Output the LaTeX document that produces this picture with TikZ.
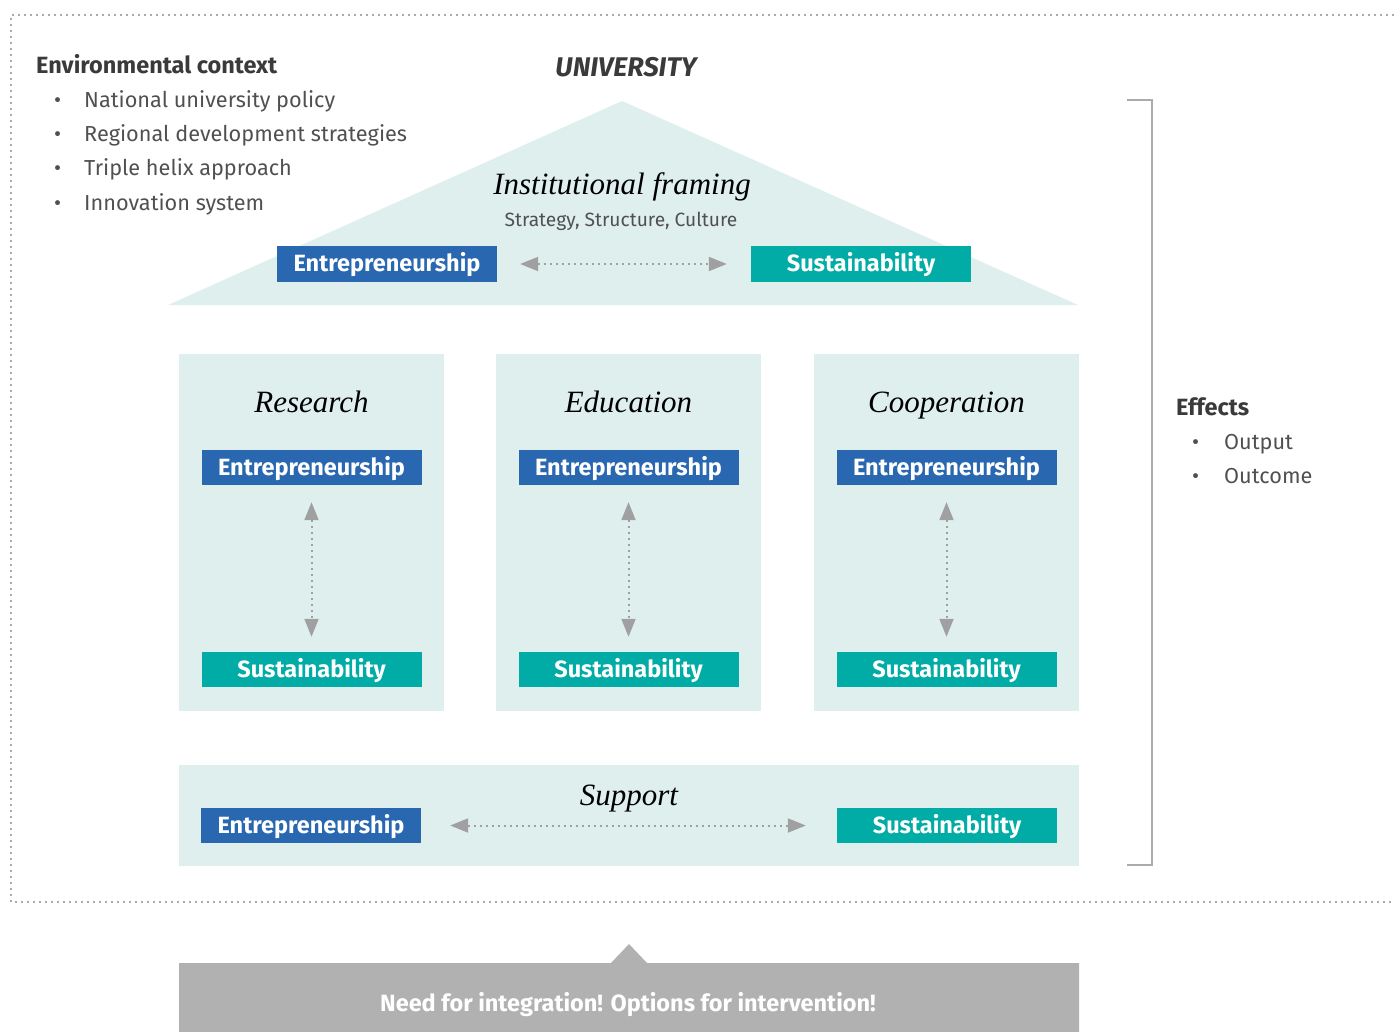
\documentclass[tikz,border=0pt]{standalone}
\usepackage{fontspec}
\setmainfont{Fira Sans}
\newfontfamily\serifit{Liberation Serif}
\usetikzlibrary{arrows.meta}
\definecolor{roof}{HTML}{DFEFEE}
\definecolor{entblue}{HTML}{2A67B1}
\definecolor{susteal}{HTML}{00ACA5}
\definecolor{arrgray}{HTML}{A0A0A0}
\definecolor{framegray}{HTML}{ABABAB}
\definecolor{txtdark}{HTML}{3A3A3A}
\definecolor{txtbody}{HTML}{505050}
\definecolor{banner}{HTML}{B1B1B1}
\tikzset{
  tagbox/.style={minimum width=220pt, minimum height=35pt, inner sep=0pt, text=white,
     text height=16pt, text depth=0pt,
     font=\fontsize{23.5}{26}\selectfont\bfseries},
  entbox/.style={tagbox, fill=entblue},
  susbox/.style={tagbox, fill=susteal},
  pillar/.style={fill=roof, minimum width=265pt, minimum height=357pt, inner sep=0pt},
  ptitle/.style={font=\serifit\itshape\fontsize{31}{34}\selectfont, text=black, inner sep=0pt, anchor=base},
  linkarrow/.style={arrgray, line width=2pt, dash pattern=on 2pt off 4pt,
     {Triangle[length=18pt,width=14pt]}-{Triangle[length=18pt,width=14pt]}},
  bodytxt/.style={font=\fontsize{21.7}{24}\selectfont, text=txtbody, anchor=base west, inner sep=0pt},
  headtxt/.style={font=\fontsize{23.5}{26}\selectfont\bfseries, text=txtdark, anchor=base west, inner sep=0pt},
}
\begin{document}
\begin{tikzpicture}[x=1pt,y=-1pt]
\useasboundingbox (0,0) rectangle (1394,1032);
% outer dotted frame
\coordinate (fTR) at (1394,15);
\coordinate (fTL) at (11,15);
\coordinate (fBL) at (11,902);
\coordinate (fBR) at (1394,902);
\draw[framegray, line width=2pt, dash pattern=on 2pt off 4pt] (fTR) -- (fTL) -- (fBL) -- (fBR);

% environmental context
\node[headtxt] (envh) at (36,73.5) {Environmental context};
\foreach \yy/\tt [count=\i] in {107.5/National university policy,141.5/Regional development strategies,175.5/Triple helix approach,210.5/Innovation system}{
  \node[bodytxt] (envb\i) at (54,\yy) {•};
  \node[bodytxt] (env\i) at (84,\yy) {\tt};
}

% University
\node[font=\fontsize{27}{30}\selectfont\bfseries\itshape, text=txtdark, inner sep=0pt] (univ) at (626,67) {UNIVERSITY};

% roof
\coordinate (apex) at (622,101);
\coordinate (rl) at (168,305);
\coordinate (rr) at (1078,305);
\fill[roof] (apex) -- (rr) -- (rl) -- cycle;
\node[ptitle] (inst) at (622,195) {Institutional framing};
\node[font=\fontsize{19.2}{22}\selectfont, text=txtbody, inner sep=0pt] (ssc) at (621,221) {Strategy, Structure, Culture};
\node[entbox] (te) at (387,264) {Entrepreneurship};
\node[susbox] (ts) at (861,264) {Sustainability};
\draw[linkarrow, shorten <=23pt, shorten >=24pt] (te.east) -- (ts.west);

% pillars
\foreach \nm/\cx/\ttl in {r/311.5/Research, e/628.5/Education, c/946.5/Cooperation}{
  \node[pillar] (p\nm) at (\cx,532.5) {};
  \node[ptitle] (t\nm) at (\cx,412) {\ttl};
  \node[entbox] (e\nm) at (\cx,467.5) {Entrepreneurship};
  \node[susbox] (s\nm) at (\cx,669.5) {Sustainability};
  \draw[linkarrow, shorten <=17pt, shorten >=15pt] (e\nm.south) -- (s\nm.north);
}

% support
\node[fill=roof, minimum width=900pt, minimum height=101pt, inner sep=0pt] (sup) at (629,815.5) {};
\node[ptitle] (supt) at (629,805) {Support};
\node[entbox] (se) at (311,825.5) {Entrepreneurship};
\node[susbox] (ss) at (947,825.5) {Sustainability};
\draw[linkarrow, shorten <=29pt, shorten >=31pt] (se.east) -- (ss.west);

% effects bracket
\coordinate (bt) at (1127,100);
\coordinate (bb) at (1127,865);
\draw[framegray, line width=1.5pt] (bt) -- (1152,100) -- (1152,865) -- (bb);
\node[headtxt] (effh) at (1176,415) {Effects};
\node[bodytxt] (effb1) at (1192,449) {•};
\node[bodytxt] (eff1) at (1224,449) {Output};
\node[bodytxt] (effb2) at (1192,483) {•};
\node[bodytxt] (eff2) at (1224,483) {Outcome};

% bottom banner
\coordinate (ba) at (629,944);
\fill[banner] (179,963) -- (611,963) -- (ba) -- (647,963) -- (1079,963) -- (1079,1032) -- (179,1032) -- cycle;
\node[font=\fontsize{23.5}{26}\selectfont\bfseries, text=white, inner sep=0pt, text height=16pt, text depth=0pt] (need) at (628,1003) {Need for integration! Options for intervention!};
\end{tikzpicture}
\end{document}
